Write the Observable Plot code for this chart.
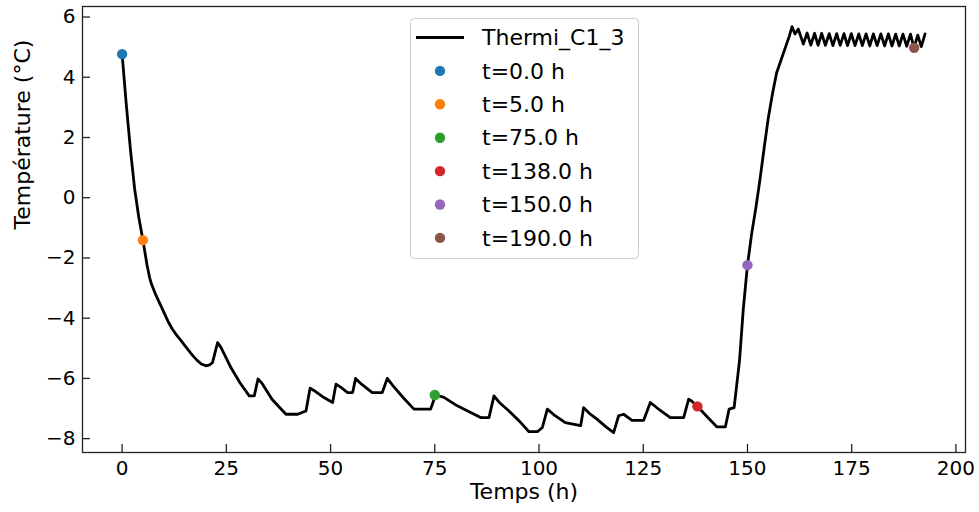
<!DOCTYPE html>
<html>
<head>
<meta charset="utf-8">
<script src="https://cdn.jsdelivr.net/npm/d3@7"></script>
<script src="https://cdn.jsdelivr.net/npm/@observablehq/plot@0.6"></script>
<style>
  html, body { margin: 0; padding: 0; background: white; }
  #chart { position: relative; width: 979px; height: 512px; }
</style>
</head>
<body>
<div id="chart"></div>
<script>
// ---- data ----
const seriesName = "Thermi_C1_3";
const times = [
  0, 1, 2, 3, 4, 5, 6, 6.6, 7, 8, 9, 10, 11, 12, 13, 14, 15, 16, 17, 18, 19, 20.1, 21.0, 21.7,
  22.9, 23.7, 26.1, 28.3, 30.5, 31.7, 32.6, 33.5, 36.0, 39.3, 42.1, 44.1, 45.1, 46, 48, 50.5,
  51.3, 52.5, 54.1, 55.3, 56.0, 57.5, 60.0, 62.4, 63.6, 65, 67.5, 70.0, 74.0, 75.2, 77.2, 80.4,
  83.6, 86.0, 88.0, 89.2, 90.5, 92.8, 95.5, 97.6, 99.6, 100.8, 102.0, 103.5, 106.3, 110.0,
  110.7, 112.0, 113.9, 116, 117.9, 119.1, 120.3, 122.3, 125.1, 126.7, 128.5, 131.5, 134.7,
  135.9, 136.6, 138, 140.5, 142.7, 144.7, 145.6, 146.8, 148.1, 149, 150, 151, 152, 153, 154,
  155, 156, 157, 158, 159, 160, 160.7, 161.4, 162.2, 163.4,
  164.3, 165.2, 166.1, 166.95, 167.8, 168.7, 169.6, 170.5, 171.4, 172.25, 173.15, 174.0,
  174.9, 175.8, 176.7, 177.55, 178.45, 179.35, 180.2, 181.1, 182.0, 182.9, 183.8, 184.65,
  185.55, 186.4, 187.3, 188.2, 189.1, 189.95, 190.85, 191.7, 192.6
];
const temps = [
  4.77, 3.1, 1.6, 0.3, -0.65, -1.41, -2.25, -2.65, -2.85, -3.2, -3.5, -3.8, -4.1, -4.35, -4.55,
  -4.72, -4.9, -5.08, -5.25, -5.4, -5.52, -5.58, -5.55, -5.47,
  -4.81, -4.97, -5.64, -6.15, -6.58, -6.58, -6.02, -6.15, -6.7, -7.19, -7.19, -7.08, -6.32,
  -6.4, -6.6, -6.8, -6.19, -6.3, -6.47, -6.47, -6.0, -6.2, -6.47, -6.47, -6.0, -6.25, -6.65,
  -7.02, -7.02, -6.55, -6.63, -6.91, -7.13, -7.3, -7.3, -6.58, -6.8, -7.08, -7.45, -7.77,
  -7.77, -7.63, -7.02, -7.2, -7.47, -7.57, -6.97, -7.15, -7.35, -7.6, -7.8, -7.24, -7.19,
  -7.39, -7.39, -6.8, -7.0, -7.3, -7.3, -6.69, -6.75, -6.93, -7.3, -7.61, -7.61, -7.02, -6.97,
  -5.4, -3.7, -2.24, -1.2, -0.35, 0.6, 1.65, 2.65, 3.45, 4.15, 4.55, 4.95, 5.35, 5.68, 5.44,
  5.6, 5.1,
  5.47, 5.07, 5.46, 5.06, 5.46, 5.06, 5.45, 5.05, 5.45, 5.06, 5.45, 5.05, 5.45, 5.05, 5.44,
  5.05, 5.44, 5.04, 5.44, 5.05, 5.44, 5.04, 5.44, 5.04, 5.43, 5.04, 5.43, 5.03, 5.43, 4.98,
  5.4, 5.02, 5.44
];
const markTimes = [0, 5, 75, 138, 150, 190];
const markTemps = [4.77, -1.41, -6.55, -6.93, -2.24, 4.98];
const markColors = ["#1f77b4", "#ff7f0e", "#2ca02c", "#d62728", "#9467bd", "#8c564b"];
const xTicks = [0, 25, 50, 75, 100, 125, 150, 175, 200];
const yTicks = [-8, -6, -4, -2, 0, 2, 4, 6];
const xLabel = "Temps (h)";
const yLabel = "Température (°C)";

// ---- build ----
const rows = times.map((t, i) => ({t, T: temps[i]}));
const markLabels = markTimes.map(t => `t=${t.toFixed(1)} h`);
const marks = markTimes.map((t, i) => ({t, T: markTemps[i], label: markLabels[i]}));

const W = 979, H = 512;
const mL = 82, mR = 14, mT = 6, mB = 60;
const frameW = W - mL - mR, frameH = H - mT - mB;
const tickLen = 8;
const axisColor = "#222";

const plot = Plot.plot({
  width: W, height: H,
  marginLeft: mL, marginRight: mR, marginTop: mT, marginBottom: mB,
  style: {fontFamily: "'DejaVu Sans', sans-serif", fontSize: "20px", color: "#000", background: "white", overflow: "visible"},
  x: {domain: [-9.5, 202.3]},
  y: {domain: [-8.46, 6.35]},
  color: {domain: markLabels, range: markColors},
  marks: [
    Plot.axisX({ticks: xTicks, tickSize: 0, tickPadding: 8, fontSize: 20, label: null}),
    Plot.axisY({ticks: yTicks, tickSize: 0, tickPadding: 7, fontSize: 20, label: null}),
    Plot.tickX(xTicks, {x: d => d, stroke: axisColor, strokeWidth: 1.3, insetTop: frameH - tickLen}),
    Plot.tickY(yTicks, {y: d => d, stroke: axisColor, strokeWidth: 1.3, insetRight: frameW - tickLen}),
    Plot.line(rows, {x: "t", y: "T", stroke: "black", strokeWidth: 2.8, strokeLinejoin: "round", strokeLinecap: "round"}),
    Plot.dot(marks, {x: "t", y: "T", fill: "label", r: 5.2}),
    Plot.frame({stroke: axisColor, strokeWidth: 1.3}),
    Plot.text([xLabel], {frameAnchor: "bottom", dy: 46, fontSize: 22, text: d => d}),
    Plot.text([yLabel], {frameAnchor: "left", dx: -60, rotate: -90, fontSize: 22, text: d => d})
  ]
});
document.getElementById("chart").appendChild(plot);

// ---- legend (inside the plot area, top centre) ----
const svg = d3.select(plot);
const lg = svg.append("g")
  .attr("font-family", "'DejaVu Sans', sans-serif")
  .attr("font-size", 22)
  .attr("text-anchor", "start");
const lx = 410, ly = 18, lw = 228, lh = 240;
lg.append("rect").attr("x", lx + 0.5).attr("y", ly + 0.5).attr("width", lw).attr("height", lh)
  .attr("rx", 4).attr("fill", "white").attr("fill-opacity", 0.8).attr("stroke", "#cccccc");
const rowY = i => 37.5 + i * 33.4;
lg.append("line").attr("x1", 416).attr("x2", 464).attr("y1", rowY(0)).attr("y2", rowY(0))
  .attr("stroke", "black").attr("stroke-width", 2.8);
lg.append("text").attr("x", 482).attr("y", rowY(0)).attr("dy", "0.35em").attr("fill", "#000")
  .attr("text-anchor", "start").text(seriesName);
markLabels.forEach((lab, i) => {
  lg.append("circle").attr("cx", 440).attr("cy", rowY(i + 1)).attr("r", 5.2).attr("fill", markColors[i]);
  lg.append("text").attr("x", 482).attr("y", rowY(i + 1)).attr("dy", "0.35em").attr("fill", "#000")
    .attr("text-anchor", "start").text(lab);
});
</script>
</body>
</html>
